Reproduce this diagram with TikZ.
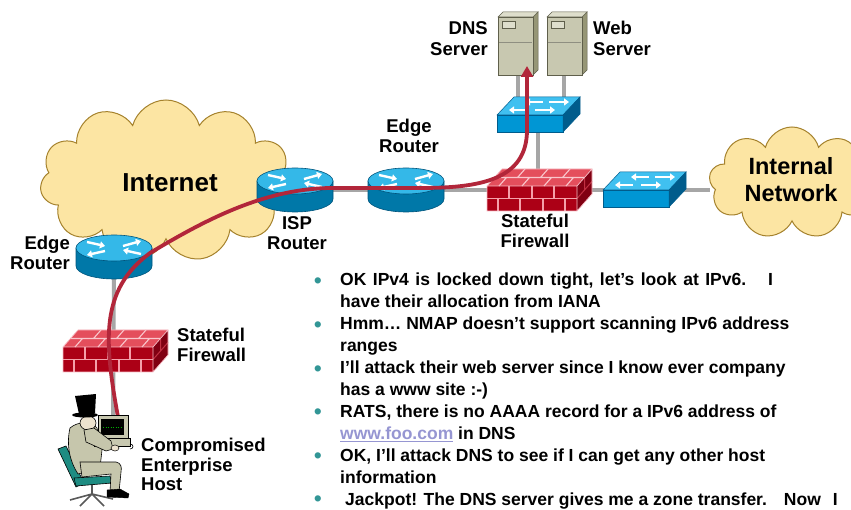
\documentclass[tikz,border=0pt]{standalone}
\usepackage{fontspec}
\setmainfont{Liberation Sans}
\usetikzlibrary{shapes.symbols,arrows.meta,calc}

\definecolor{cloudfill}{RGB}{252,229,163}
\definecolor{cloudline}{RGB}{165,130,45}
\definecolor{rtop}{RGB}{52,184,232}
\definecolor{rside}{RGB}{0,120,168}
\definecolor{rline}{RGB}{0,85,125}
\definecolor{swtop}{RGB}{64,192,240}
\definecolor{swfront}{RGB}{0,150,212}
\definecolor{swside}{RGB}{0,92,140}
\definecolor{fwfront}{RGB}{172,0,22}
\definecolor{fwtop}{RGB}{228,78,92}
\definecolor{fwside}{RGB}{128,0,18}
\definecolor{fwjoint}{RGB}{245,160,170}
\definecolor{srvfront}{RGB}{200,200,176}
\definecolor{srvtop}{RGB}{222,222,204}
\definecolor{srvside}{RGB}{150,150,118}
\definecolor{srvline}{RGB}{95,95,75}
\definecolor{wire}{RGB}{166,166,166}
\definecolor{attack}{RGB}{178,38,58}
\definecolor{bulletc}{RGB}{50,150,150}
\definecolor{linkc}{RGB}{150,150,210}
\definecolor{coat}{RGB}{198,198,172}
\definecolor{skin}{RGB}{236,226,206}
\definecolor{chairc}{RGB}{30,140,130}

\tikzset{
  cloudsty/.style={cloud, draw=cloudline, fill=cloudfill, line width=1pt, inner sep=0pt},
  wireline/.style={wire, line width=4pt},
  lbl/.style={inner sep=0pt, font=\fontsize{18.5}{20}\selectfont\bfseries},
  biglbl/.style={inner sep=0pt, font=\fontsize{26}{28}\selectfont\bfseries, anchor=base},
  netlbl/.style={inner sep=0pt, font=\fontsize{23.5}{26}\selectfont\bfseries, anchor=base},
  bul/.style={inner sep=0pt, anchor=base west, font=\fontsize{17.5}{21}\selectfont\bfseries},
  dot/.style={inner sep=0pt, anchor=base, text=bulletc, font=\fontsize{23}{23}\selectfont, yshift=-2.4pt},
  wa/.style={white, line width=2.4pt, -{Triangle[length=5pt,width=7pt]}},
  router/.pic={
    \path[fill=rside,draw=rline,line width=0.6pt] (-38,0) -- (-38,18)
      arc[start angle=180,end angle=0,x radius=38,y radius=13] -- (38,0) -- cycle;
    \path[fill=rtop,draw=rline,line width=0.6pt] (0,0) ellipse[x radius=38,y radius=13];
    \draw[wa] (-27,-6) -- (-9,-2);
    \draw[wa] (-9,3) -- (-27,7);
    \draw[wa] (9,-2) -- (27,-7);
    \draw[wa] (27,6) -- (9,2);
  },
  switch/.pic={
    \path[fill=swfront,draw=swside,line width=0.5pt] (0,0) rectangle (66,17);
    \path[fill=swtop,draw=swside,line width=0.5pt] (0,0) -- (17,-18) -- (83,-18) -- (66,0) -- cycle;
    \path[fill=swside,draw=swside,line width=0.5pt] (66,0) -- (83,-18) -- (83,-1) -- (66,17) -- cycle;
    \draw[wa,line width=2.2pt] (46,-13) -- (28,-13);
    \draw[wa,line width=2.2pt] (52,-13) -- (72,-13);
    \draw[wa,line width=2.2pt] (30,-5) -- (12,-5);
    \draw[wa,line width=2.2pt] (38,-5) -- (58,-5);
  },
  firewall/.pic={
    \path[fill=fwfront] (0,0) rectangle (90,25);
    \path[fill=fwtop] (0,0) -- (15,-17) -- (105,-17) -- (90,0) -- cycle;
    \path[fill=fwside] (90,0) -- (105,-17) -- (105,8) -- (90,25) -- cycle;
    \draw[fwjoint,line width=1.1pt] (0,12.5) -- (90,12.5)
      (22,0) -- (22,12.5) (45,0) -- (45,12.5) (67,0) -- (67,12.5)
      (11,12.5) -- (11,25) (33,12.5) -- (33,25) (56,12.5) -- (56,25) (78,12.5) -- (78,25);
    \draw[fwjoint!60!white,line width=1.1pt] (7.5,-8.5) -- (97.5,-8.5)
      (12,0) -- (19.5,-8.5) (35,0) -- (42.5,-8.5) (57,0) -- (64.5,-8.5) (79,0) -- (86.5,-8.5)
      (30.5,-8.5) -- (38,-17) (53.5,-8.5) -- (61,-17) (75.5,-8.5) -- (83,-17);
    \draw[fwfront!70!fwjoint,line width=1pt] (90,12.5) -- (105,-4.5) (97.5,-8.5) -- (97.5,4);
    \draw[fwjoint!70!white,line width=0.7pt] (0,25) -- (0,0) -- (15,-17) -- (105,-17) -- (105,8) -- (90,25) -- cycle
      (0,0) -- (90,0) -- (105,-17) (90,0) -- (90,25);
  },
  server/.pic={
    \path[fill=srvside,draw=srvline,line width=0.5pt] (35,0) -- (40,-5) -- (40,53) -- (35,58) -- cycle;
    \path[fill=srvtop,draw=srvline,line width=0.5pt] (0,0) -- (5,-5) -- (40,-5) -- (35,0) -- cycle;
    \path[fill=srvfront,draw=srvline,line width=0.5pt] (0,0) rectangle (35,58);
    \draw[srvline,line width=0.5pt,fill=srvtop] (4,4) rectangle (17,11);
    \draw[srvline!70,line width=0.6pt] (1,25) -- (34,25);
  }
}

\begin{document}
\begin{tikzpicture}[x=1pt,y=-1pt]
\useasboundingbox (0,0) rectangle (851,510);
\fill[white] (0,0) rectangle (851,510);

% clouds
\node[cloudsty, cloud puffs=11, aspect=1.55, minimum width=252pt, minimum height=162pt] (inet) at (166,181) {};
\node[cloudsty, cloud puffs=9, aspect=1.45, minimum width=166pt, minimum height=112pt] (intnet) at (792,183) {};

% attachment points of the devices
\coordinate (dnsW) at (518,60);
\coordinate (webW) at (564,60);
\coordinate (swT) at (538,124);
\coordinate (fwR) at (538,190);
\coordinate (ispW) at (295,190);
\coordinate (rtE) at (406,190);
\coordinate (swR) at (645,190);
\coordinate (edgeW) at (114,262);
\coordinate (hostW) at (113,430);
\coordinate (hostT) at (118,417);
\coordinate (dnsB) at (527,66);

% wiring
\draw[wireline] (dnsW) -- (dnsW |- swT);
\draw[wireline] (webW) -- (webW |- swT);
\draw[wireline] (swT) -- (fwR);
\draw[wireline] (ispW) -- (rtE);
\draw[wireline] (rtE) -- (fwR);
\draw[wireline] (fwR) -- (swR);
\draw[wireline] (swR) -- (swR -| intnet.west);
\draw[wireline] (edgeW) -- (hostW);

% devices
\pic at (498,17) {server};
\pic at (547,17) {server};
\pic at (497,115) {switch};
\pic at (603,190) {switch};
\pic at (487,186) {firewall};
\pic at (63,347) {firewall};
\pic at (295,181) {router};
\pic at (406,181) {router};
\pic at (114,248) {router};

% path of the attack
\draw[attack, line width=3.8pt, -{Triangle[length=11pt,width=12pt]}]
  (hostT) .. controls (104,340) and (100,290) .. (150,253)
  .. controls (205,220) and (265,188) .. (333,188) -- (420,188)
  .. controls (480,188) and (527,180) .. (527,130) -- (dnsB);

% attacker at his workstation
\draw[gray!70!black,line width=1.6pt] (92,484) -- (92,494)
  (92,494) -- (70,500) (92,494) -- (80,506) (92,494) -- (104,506) (92,494) -- (113,499);
\draw[fill=chairc,line width=0.6pt] (58,449) -- (66,446) -- (84,483) -- (76,487) -- cycle;
\draw[fill=chairc,line width=0.6pt] (74,478) -- (110,476) -- (112,483) -- (76,486) -- cycle;
\draw[fill=coat,line width=0.6pt] (70,428) .. controls (78,421) and (92,421) .. (97,428)
  -- (102,450) -- (100,468) -- (78,474) .. controls (70,462) and (66,445) .. (70,428) -- cycle;
\draw[fill=coat,line width=0.6pt] (80,462) -- (116,462) .. controls (121,463) and (122,467) .. (121,472)
  -- (119,492) -- (110,492) -- (111,474) -- (82,477) -- cycle;
\draw[fill=black] (107,490) -- (120,489) -- (129,494) -- (128,498) -- (107,497) -- cycle;
\draw[fill=skin,line width=0.6pt] (88,423) ellipse[x radius=8,y radius=7];
\fill[black] (75,396) -- (96,394) -- (95,413) -- (79,414) -- cycle;
\fill[black] (85,415) ellipse[x radius=13,y radius=2.5];
\draw[fill=srvfront,line width=0.6pt] (98,415) rectangle (128,438);
\fill[black] (101,419) rectangle (124,435);
\draw[green!70!black,line width=1pt,dash pattern=on 1pt off 1.5pt] (103,427) -- (122,427);
\draw[fill=srvfront,line width=0.6pt] (94,438) rectangle (130,446);
\draw[line width=0.6pt] (130,444) .. controls (134,444) and (134,449) .. (130,449);
\draw[fill=coat,line width=0.6pt] (84,430) -- (94,428) -- (111,441) -- (113,449) -- (106,451) -- (86,442) -- cycle;
\draw[fill=skin,line width=0.5pt] (115,448) ellipse[x radius=4,y radius=3];

% device labels
\node[biglbl] (tInet) at (170,192) {Internet};
\node[netlbl] (tInt1) at (791,175) {Internal};
\node[netlbl] (tInt2) at (791,202) {Network};
\node[lbl, anchor=base east] (tDns1) at (488,35) {DNS};
\node[lbl, anchor=base east] (tDns2) at (488,56) {Server};
\node[lbl, anchor=base west] (tWeb1) at (593,35) {Web};
\node[lbl, anchor=base west] (tWeb2) at (593,56) {Server};
\node[lbl, anchor=base] (tEr1) at (409,133) {Edge};
\node[lbl, anchor=base] (tEr2) at (409,153) {Router};
\node[lbl, anchor=base] (tIsp1) at (297,230) {ISP};
\node[lbl, anchor=base] (tIsp2) at (297,250) {Router};
\node[lbl, anchor=base east] (tEl1) at (70,250) {Edge};
\node[lbl, anchor=base east] (tEl2) at (70,270) {Router};
\node[lbl, anchor=base] (tFw1) at (535,228) {Stateful};
\node[lbl, anchor=base] (tFw2) at (535,248) {Firewall};
\node[lbl, anchor=base west] (tFl1) at (177,342) {Stateful};
\node[lbl, anchor=base west] (tFl2) at (177,362) {Firewall};
\node[lbl, anchor=base west] (tHost1) at (141,451) {Compromised};
\node[lbl, anchor=base west] (tHost2) at (141,471) {Enterprise};
\node[lbl, anchor=base west] (tHost3) at (141,490) {Host};

% narrative
\node[dot] (d1) at (318,286) {•};
\node[bul] (b1a) at (340,286) {\spaceskip=6.5pt OK IPv4 is locked down tight, let’s look at IPv6.\hspace{22pt}I};
\node[bul] (b1b) at (340,307.9) {have their allocation from IANA};
\node[dot] (d2) at (318,329.8) {•};
\node[bul] (b2a) at (340,329.8) {Hmm… NMAP doesn’t support scanning IPv6 address};
\node[bul] (b2b) at (340,351.7) {ranges};
\node[dot] (d3) at (318,373.6) {•};
\node[bul] (b3a) at (340,373.6) {I’ll attack their web server since I know ever company};
\node[bul] (b3b) at (340,395.5) {has a www site :-)};
\node[dot] (d4) at (318,417.4) {•};
\node[bul] (b4a) at (340,417.4) {RATS, there is no AAAA record for a IPv6 address of};
\node[bul] (b4b) at (340,439.3) {\textcolor{linkc}{\underline{www.foo.com}} in DNS};
\node[dot] (d5) at (318,461.2) {•};
\node[bul] (b5a) at (340,461.2) {OK, I’ll attack DNS to see if I can get any other host};
\node[bul] (b5b) at (340,483.1) {information};
\node[dot] (d6) at (318,504) {•};
\node[bul] (b6a) at (345,505) {Jackpot! The DNS server gives me a zone transfer.\hspace{17pt}Now\hspace{12pt}I};
\end{tikzpicture}
\end{document}
